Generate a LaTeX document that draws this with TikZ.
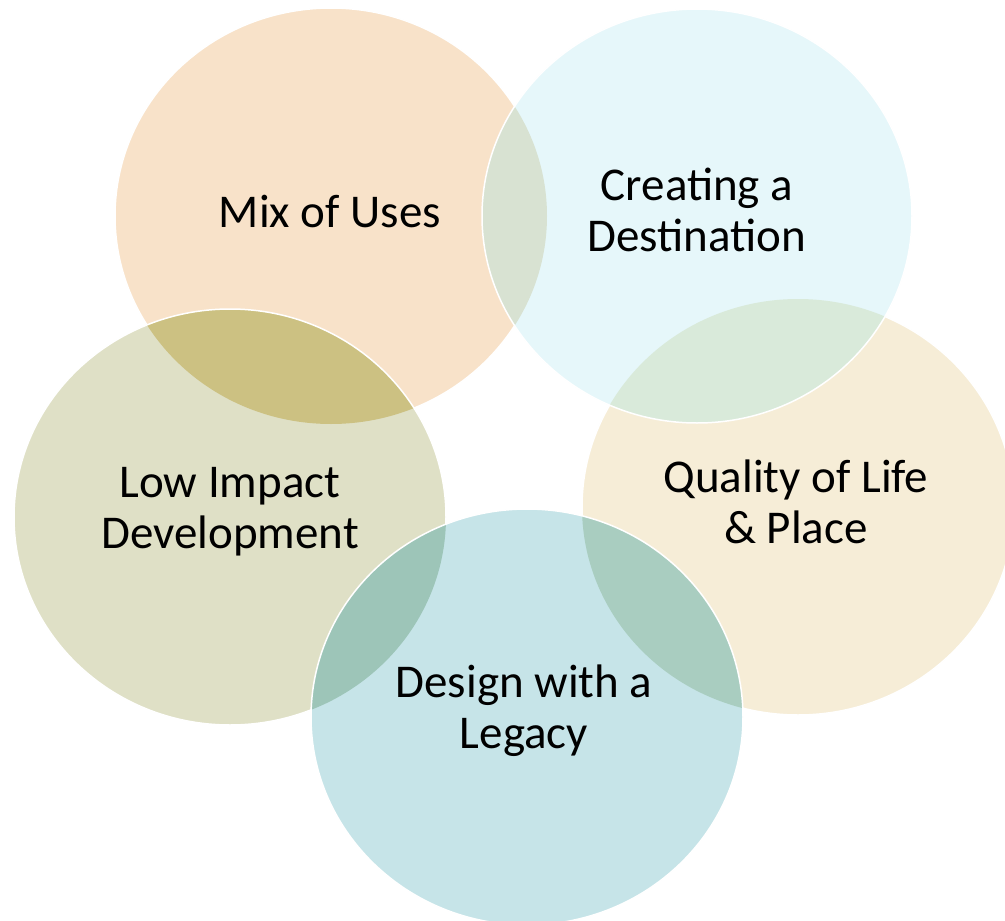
\documentclass[tikz,border=0pt]{standalone}
\usepackage{fontspec}
\setmainfont{Carlito}
\begin{document}
\definecolor{mixC}{HTML}{F8E2C9}
\definecolor{qualC}{HTML}{F6EDD7}
\definecolor{creaC}{HTML}{E6F7FA}
\definecolor{lowC}{HTML}{DFE0C6}
\definecolor{desC}{HTML}{C6E4E8}
\definecolor{mixcreaC}{HTML}{D8E2D2}
\definecolor{qualcreaC}{HTML}{D9EADA}
\definecolor{mixlowC}{HTML}{CCC182}
\definecolor{lowdesC}{HTML}{9DC5B8}
\definecolor{qualdesC}{HTML}{A9CDC0}
\begin{tikzpicture}[x=1pt,y=-1pt,
  rim/.style={draw=white,line width=1.5pt},
  label/.style={align=center,font=\fontsize{47}{51}\selectfont,text=black,inner sep=0pt}]
\useasboundingbox (0,0) rectangle (1005,921);
\clip (0,0) rectangle (1005,921);
% circle outlines as ellipse paths (slightly wider than tall)
\def\mixE{(331,216) ellipse [x radius=216pt, y radius=208pt]}
\def\qualE{(798,507) ellipse [x radius=216pt, y radius=208pt]}
\def\creaE{(697,216) ellipse [x radius=215pt, y radius=207pt]}
\def\lowE{(230,517) ellipse [x radius=216pt, y radius=208pt]}
\def\desE{(527,717) ellipse [x radius=216pt, y radius=208pt]}
% Mix of Uses
\fill[mixC] \mixE;
\path[rim] \mixE;
% Quality of Life
\fill[qualC] \qualE;
\path[rim] \qualE;
% Creating a Destination, with its overlaps
\fill[creaC] \creaE;
\begin{scope}\clip \mixE; \fill[mixcreaC] \creaE;\end{scope}
\begin{scope}\clip \qualE; \fill[qualcreaC] \creaE;\end{scope}
\path[rim] \creaE;
% Low Impact Development
\fill[lowC] \lowE;
\begin{scope}\clip \mixE; \fill[mixlowC] \lowE;\end{scope}
\path[rim] \lowE;
% Design with a Legacy
\fill[desC] \desE;
\begin{scope}\clip \lowE; \fill[lowdesC] \desE;\end{scope}
\begin{scope}\clip \qualE; \fill[qualdesC] \desE;\end{scope}
\path[rim] \desE;
% labels
\node[label] (mix)  at (330,212) {Mix of Uses};
\node[label] (crea) at (697,210) {Creating a\\Destination};
\node[label] (qual) at (796,502) {Quality of Life\\\& Place};
\node[label] (low)  at (230,512) {Low Impact\\Development};
\node[label] (des)  at (524,711) {Design with a\\Legacy};
\end{tikzpicture}
\end{document}
